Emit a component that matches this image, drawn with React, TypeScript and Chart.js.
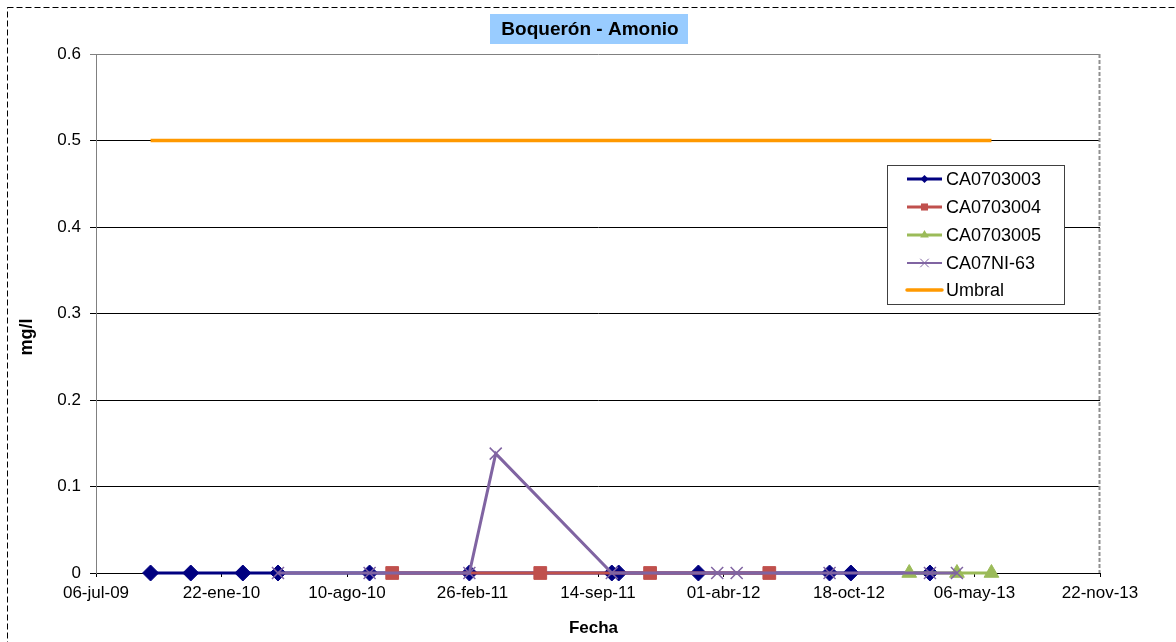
import React, { useEffect, useRef } from "react";
import { Chart, registerables } from "chart.js";

Chart.register(...registerables);

// ---------- data ----------
const BASE_DATE = "2009-07-06";
const X_STEP_DAYS = 200;
const xTickLabels = [
  "06-jul-09",
  "22-ene-10",
  "10-ago-10",
  "26-feb-11",
  "14-sep-11",
  "01-abr-12",
  "18-oct-12",
  "06-may-13",
  "22-nov-13",
];
const yMin = 0;
const yMax = 0.6;
const yStep = 0.1;

const ca0703003Dates = [
  "2009-10-01", "2009-12-04", "2010-02-25", "2010-04-22", "2010-09-15", "2011-02-21",
  "2011-10-06", "2011-10-17", "2012-02-21", "2012-09-17", "2012-10-21", "2013-02-24",
];
const ca0703003Values = [0, 0, 0, 0, 0, 0, 0, 0, 0, 0, 0, 0];

const ca0703004Dates = ["2010-10-21", "2011-06-14", "2011-12-06", "2012-06-13"];
const ca0703004Values = [0, 0, 0, 0];

const ca0703005Dates = ["2013-01-22", "2013-04-08", "2013-06-02"];
const ca0703005Values = [0, 0, 0];

const ca07ni63Dates = [
  "2010-04-22", "2010-09-15", "2011-02-21", "2011-04-04", "2011-10-06",
  "2012-03-22", "2012-04-22", "2012-09-17", "2013-02-24", "2013-04-08",
];
const ca07ni63Values = [0, 0, 0, 0.138, 0, 0, 0, 0, 0, 0];

const umbralDates = ["2009-10-01", "2013-06-02"];
const umbralValues = [0.5, 0.5];

const seriesLabels = ["CA0703003", "CA0703004", "CA0703005", "CA07NI-63", "Umbral"];
const chartTitle = "Boquerón - Amonio";
const yTitle = "mg/l";
const xTitle = "Fecha";

// ---------- helpers / styles ----------
const FONT = "'Liberation Sans', Arial, sans-serif";
const dayOf = (s: string) => (Date.parse(s) - Date.parse(BASE_DATE)) / 86400000;
const toPoints = (dates: string[], values: number[]) =>
  dates.map((d, i) => ({ x: dayOf(d), y: values[i] }));

type Style = {
  color: string;
  lineWidth: number;
  pointStyle: string | false;
  radius: number;
  pointBorderWidth: number;
  legendRadius: number;
};

const styles: Style[] = [
  { color: "#000080", lineWidth: 3, pointStyle: "rectRot", radius: 8, pointBorderWidth: 1, legendRadius: 4 },
  { color: "#C0504D", lineWidth: 3, pointStyle: "rect", radius: 9, pointBorderWidth: 1, legendRadius: 5 },
  { color: "#9BBB59", lineWidth: 3, pointStyle: "triangle", radius: 8.5, pointBorderWidth: 1, legendRadius: 5 },
  { color: "#8064A2", lineWidth: 3, pointStyle: "crossRot", radius: 8.5, pointBorderWidth: 1.5, legendRadius: 6 },
  { color: "#FF9900", lineWidth: 3.5, pointStyle: false, radius: 0, pointBorderWidth: 0, legendRadius: 0 },
];

function drawMarker(ctx: CanvasRenderingContext2D, style: Style, x: number, y: number) {
  const r = style.legendRadius;
  ctx.save();
  ctx.fillStyle = style.color;
  ctx.strokeStyle = style.color;
  ctx.lineWidth = 1;
  ctx.beginPath();
  if (style.pointStyle === "rectRot") {
    ctx.moveTo(x - r, y);
    ctx.lineTo(x, y - r);
    ctx.lineTo(x + r, y);
    ctx.lineTo(x, y + r);
    ctx.closePath();
    ctx.fill();
  } else if (style.pointStyle === "rect") {
    const s = r * Math.SQRT1_2;
    ctx.rect(x - s, y - s, 2 * s, 2 * s);
    ctx.fill();
  } else if (style.pointStyle === "triangle") {
    for (let k = 0; k < 3; k++) {
      const a = (k * 2 * Math.PI) / 3;
      const px = x + Math.sin(a) * r;
      const py = y - Math.cos(a) * r;
      if (k === 0) ctx.moveTo(px, py);
      else ctx.lineTo(px, py);
    }
    ctx.closePath();
    ctx.fill();
  } else if (style.pointStyle === "crossRot") {
    const s = r * Math.SQRT1_2;
    ctx.moveTo(x - s, y - s);
    ctx.lineTo(x + s, y + s);
    ctx.moveTo(x + s, y - s);
    ctx.lineTo(x - s, y + s);
    ctx.stroke();
  }
  ctx.restore();
}

const decorPlugin = {
  id: "decor",
  afterDraw(chart: any) {
    const ctx: CanvasRenderingContext2D = chart.ctx;
    const a = chart.chartArea;
    ctx.save();

    // right edge of plot area (dashed grey)
    ctx.strokeStyle = "#909090";
    ctx.lineWidth = 2;
    ctx.setLineDash([4, 2]);
    ctx.beginPath();
    ctx.moveTo(a.right - 0.5, a.top);
    ctx.lineTo(a.right - 0.5, a.bottom);
    ctx.stroke();

    // outer dashed border
    ctx.strokeStyle = "#000000";
    ctx.lineWidth = 1;
    ctx.setLineDash([6, 3]);
    ctx.strokeRect(7.5, 7.5, 1400, 900);
    ctx.setLineDash([]);

    // title
    ctx.fillStyle = "#99CCFF";
    ctx.fillRect(490, 14, 198, 30);
    ctx.fillStyle = "#000000";
    ctx.font = `bold 19px ${FONT}`;
    ctx.textAlign = "center";
    ctx.textBaseline = "middle";
    ctx.fillText(chartTitle, 590, 30);

    // axis titles
    ctx.font = `bold 17px ${FONT}`;
    ctx.fillText(xTitle, 593.5, 628);
    ctx.save();
    ctx.translate(27, 337);
    ctx.rotate(-Math.PI / 2);
    ctx.font = `bold 18px ${FONT}`;
    ctx.fillText(yTitle, 0, 0);
    ctx.restore();

    // legend
    const lx = 887, ly = 165, lw = 177, lh = 139;
    ctx.fillStyle = "#FFFFFF";
    ctx.fillRect(lx, ly, lw, lh);
    ctx.strokeStyle = "#404040";
    ctx.lineWidth = 1;
    ctx.strokeRect(lx + 0.5, ly + 0.5, lw, lh);
    const rows = [179, 207, 235, 263, 290];
    ctx.font = `18px ${FONT}`;
    ctx.textAlign = "left";
    ctx.textBaseline = "middle";
    seriesLabels.forEach((label, i) => {
      const st = styles[i];
      const y = rows[i];
      ctx.strokeStyle = st.color;
      ctx.lineWidth = i === 3 ? 2 : st.lineWidth;
      ctx.lineCap = i === 4 ? "round" : "butt";
      ctx.beginPath();
      ctx.moveTo(907, y);
      ctx.lineTo(942, y);
      ctx.stroke();
      drawMarker(ctx, st, 924.5, y);
      ctx.fillStyle = "#000000";
      ctx.fillText(label, 946, y + 1);
    });

    ctx.restore();
  },
};

export default function App() {
  const canvasRef = useRef<HTMLCanvasElement | null>(null);

  useEffect(() => {
    const canvas = canvasRef.current;
    if (!canvas) return;

    const seriesPoints = [
      toPoints(ca0703003Dates, ca0703003Values),
      toPoints(ca0703004Dates, ca0703004Values),
      toPoints(ca0703005Dates, ca0703005Values),
      toPoints(ca07ni63Dates, ca07ni63Values),
      toPoints(umbralDates, umbralValues),
    ];
    // draw order: blue bottom ... umbral top
    const drawOrder = [4, 3, 2, 1, 0];

    const datasets = seriesPoints.map((pts, i) => {
      const st = styles[i];
      return {
        label: seriesLabels[i],
        data: pts,
        order: drawOrder[i],
        borderColor: st.color,
        backgroundColor: st.color,
        borderWidth: st.lineWidth,
        pointStyle: st.pointStyle as any,
        pointRadius: st.radius,
        pointHoverRadius: st.radius,
        pointBackgroundColor: st.color,
        pointBorderColor: st.color,
        pointBorderWidth: st.pointBorderWidth,
        tension: 0,
        clip: false as any,
        borderCapStyle: "butt" as const,
      };
    });

    const chart = new Chart(canvas, {
      type: "line",
      data: { datasets },
      plugins: [decorPlugin],
      options: {
        animation: false,
        responsive: false,
        maintainAspectRatio: false,
        events: [],
        layout: { padding: { top: 54, right: 76, left: 0, bottom: 0 } },
        plugins: {
          legend: { display: false },
          title: { display: false },
          tooltip: { enabled: false },
        },
        scales: {
          x: {
            type: "linear",
            min: 0,
            max: (xTickLabels.length - 1) * X_STEP_DAYS,
            afterFit: (scale: any) => {
              scale.height = 69;
            },
            ticks: {
              stepSize: X_STEP_DAYS,
              autoSkip: false,
              maxRotation: 0,
              minRotation: 0,
              padding: 6,
              color: "#000000",
              font: { family: FONT, size: 17 },
              callback: (value: any) => {
                const idx = Math.round(Number(value) / X_STEP_DAYS);
                return xTickLabels[idx] ?? "";
              },
            },
            grid: {
              drawOnChartArea: false,
              drawTicks: true,
              tickLength: 4,
              color: "#000000",
            },
            border: { color: "#000000", width: 1 },
          },
          y: {
            type: "linear",
            min: yMin,
            max: yMax,
            afterFit: (scale: any) => {
              scale.width = 96;
            },
            ticks: {
              stepSize: yStep,
              padding: 9,
              color: "#000000",
              font: { family: FONT, size: 17 },
              callback: (value: any) => {
                const v = Math.round(Number(value) * 10) / 10;
                return v === 0 ? "0" : v.toFixed(1);
              },
            },
            grid: {
              drawTicks: true,
              tickLength: 6,
              lineWidth: 1,
              color: (ctx: any) => (ctx.index === 6 ? "#808080" : "#000000"),
            },
            border: { color: "#808080", width: 1 },
          },
        },
      },
    });

    return () => chart.destroy();
  }, []);

  return (
    <div
      style={{
        position: "absolute",
        left: 0,
        top: 0,
        width: 1176,
        height: 642,
        overflow: "hidden",
        background: "#ffffff",
      }}
    >
      <canvas ref={canvasRef} width={1176} height={642} style={{ display: "block" }} />
    </div>
  );
}
